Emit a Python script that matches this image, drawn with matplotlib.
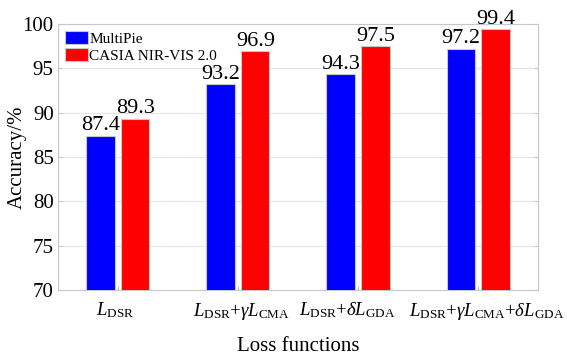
import numpy as np
import matplotlib.pyplot as plt

plt.rcParams['font.family'] = ['Liberation Serif', 'DejaVu Serif']
plt.rcParams['mathtext.fontset'] = 'custom'
plt.rcParams['mathtext.rm'] = 'Liberation Serif'
plt.rcParams['mathtext.it'] = 'Liberation Serif:italic'

labels = [r'$L_{\mathrm{DSR}}$',
          r'$L_{\mathrm{DSR}}$+$\gamma L_{\mathrm{CMA}}$',
          r'$L_{\mathrm{DSR}}$+$\delta L_{\mathrm{GDA}}$',
          r'$L_{\mathrm{DSR}}$+$\gamma L_{\mathrm{CMA}}$+$\delta L_{\mathrm{GDA}}$']
multipie = [87.4, 93.2, 94.3, 97.2]
casia = [89.3, 96.9, 97.5, 99.4]

x = np.arange(len(labels))
w = 0.235

fig = plt.figure(figsize=(5.67, 3.56), dpi=100)
ax = fig.add_axes([0.102, 0.185, 0.847, 0.748])

b1 = ax.bar(x - 0.145, multipie, w, color='#0000ff', edgecolor='#c8c8c8', linewidth=0.8,
            label='MultiPie', zorder=3)
b2 = ax.bar(x + 0.145, casia, w, color='#ff0000', edgecolor='#c8c8c8', linewidth=0.8,
            label='CASIA NIR-VIS 2.0', zorder=3)
for bars in (b1, b2):
    for b in bars:
        ax.text(b.get_x() + b.get_width() / 2, b.get_height() + 0.05, f'{b.get_height():.1f}',
                ha='center', va='bottom', fontsize=16)

ax.set_xlim(-0.5, 3.5)
ax.set_ylim(70, 100)
ax.set_yticks(np.arange(70, 101, 5))
ax.set_xticks(x)
ax.set_xticklabels([])
# tick labels nudged apart so the long ones do not collide
shift = [-0.02, 0.025, -0.09, 0.07]
for xi, lab, s in zip(x, labels, shift):
    ax.text(xi + s, -0.04, lab, transform=ax.get_xaxis_transform(), ha='center', va='top',
            fontsize=13.5)
ax.tick_params(axis='y', labelsize=15, right=True, direction='in', color='#c8c8c8',
               length=3, pad=3)
ax.tick_params(axis='x', direction='in', color='#c8c8c8', length=3)
ax.yaxis.grid(True, color='#e6e6e6', linewidth=0.8, zorder=0)
for s in ax.spines.values():
    s.set_color('#c8c8c8')
ax.set_ylabel('Accuracy/%', fontsize=15)
ax.yaxis.set_label_coords(-0.064, 0.5)
ax.set_xlabel('Loss functions', fontsize=15, labelpad=30)
ax.legend(loc='upper left', fontsize=11, frameon=False, handlelength=1.45, handleheight=0.9,
          borderaxespad=0.3, labelspacing=0.15, handletextpad=0.1, borderpad=0.2)

fig.savefig('out.png', dpi=100)
